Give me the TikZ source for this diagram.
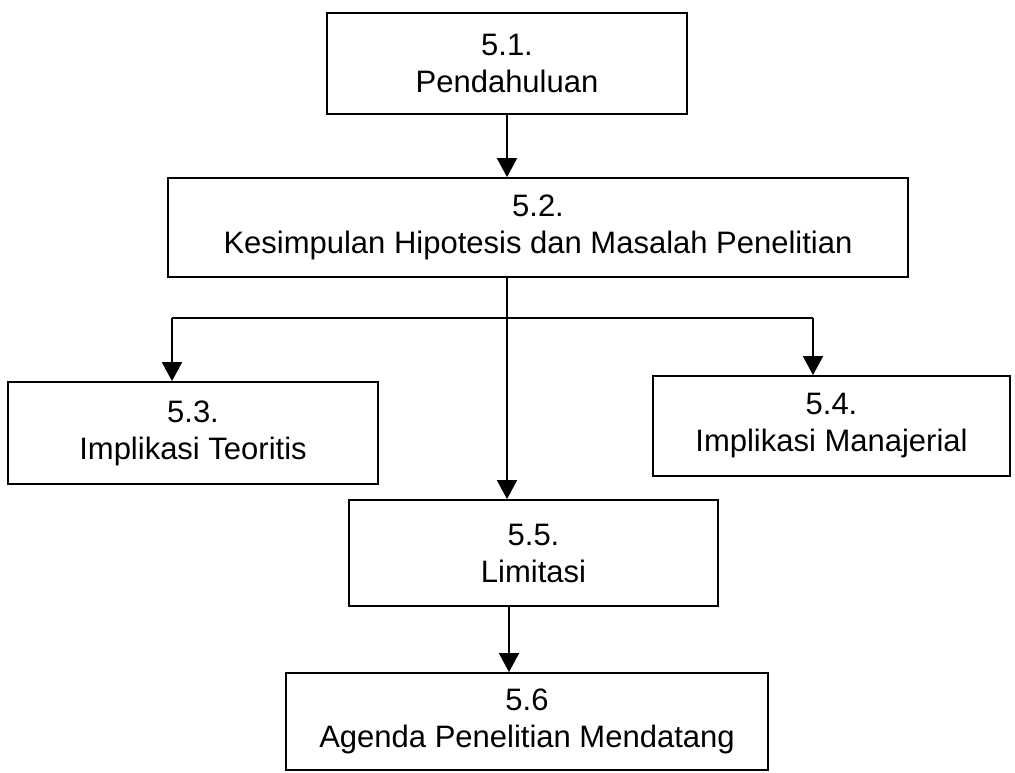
\documentclass[tikz,border=0pt]{standalone}
\usepackage{fontspec}
\setmainfont{Liberation Sans}
\usetikzlibrary{arrows.meta}
\begin{document}
\begin{tikzpicture}[x=1pt,y=-1pt,
  box/.style={draw=black,line width=1.8pt,minimum width=#1,inner sep=0pt,align=center,
    font=\fontsize{31}{37}\selectfont},
  conn/.style={draw=black,line width=1.8pt},
  arr/.style={conn,-{Triangle[width=20pt,length=19pt]}}]
\useasboundingbox (0,0) rectangle (1015,772);
\node[box=360pt,minimum height=101pt] (b1) at (507,63.5) {5.1.\\Pendahuluan};
\node[box=740pt,minimum height=99pt] (b2) at (538,227.5) {5.2.\\Kesimpulan Hipotesis dan Masalah Penelitian};
\node[box=370pt,minimum height=102pt] (b3) at (193,433) {5.3.\\Implikasi Teoritis};
\node[box=357pt,minimum height=100pt] (b4) at (831.5,426) {5.4.\\Implikasi Manajerial};
\node[box=369pt,minimum height=106pt] (b5) at (533.5,553) {5.5.\\Limitasi};
\node[box=482pt,minimum height=97pt] (b6) at (527,721.5) {5.6\\Agenda Penelitian Mendatang};
\coordinate (m) at (507,0);
\coordinate (m2) at (509,0);
\coordinate (hl) at (172,318);
\coordinate (hr) at (813,318);
\draw[arr] (m |- b1.south) -- (m |- b2.north);
\draw[arr] (m |- b2.south) -- (m |- b5.north);
\draw[conn] (hl) -- (hr);
\draw[arr] (hl) -- (hl |- b3.north);
\draw[arr] (hr) -- (hr |- b4.north);
\draw[arr] (m2 |- b5.south) -- (m2 |- b6.north);
\end{tikzpicture}
\end{document}
